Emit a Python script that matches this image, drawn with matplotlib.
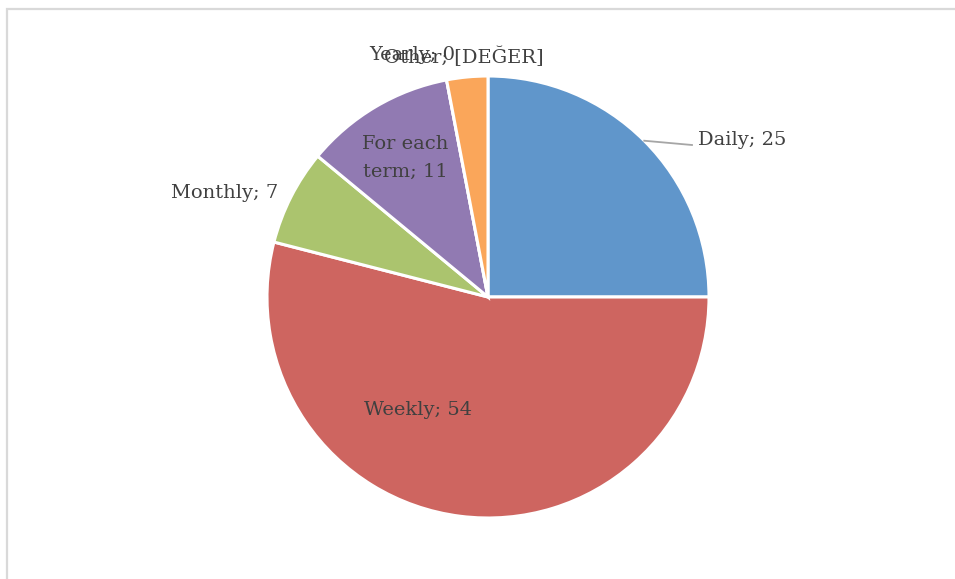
import numpy as np
import matplotlib.pyplot as plt
from matplotlib.patches import Rectangle

# data
categories = ["Daily", "Weekly", "Monthly", "For each\nterm", "Yearly", "Other"]
values = [25, 54, 7, 11, 0, 3]
value_text = ["25", "54", "7", "11", "0", "[DEĞER]"]
colors = ["#6096CB", "#CE6560", "#ABC46E", "#917AB2", "#FAA65A", "#FAA65A"]

W, H = 955, 579
fig = plt.figure(figsize=(W / 100, H / 100), dpi=100)
ax = fig.add_axes([0, 0, 1, 1])

cx, cy, R = 488, H - 297, 221
wedges, _ = ax.pie(values, colors=colors, startangle=90, counterclock=False,
                   center=(cx, cy), radius=R, frame=True,
                   wedgeprops=dict(edgecolor="white", linewidth=2.2))
ax.set_xlim(0, W)
ax.set_ylim(0, H)
ax.set_aspect("equal")
ax.axis("off")

# chart border (only top/left visible in the crop)
ax.add_patch(Rectangle((7.2, -20), W + 20, H - 8.5 + 20, fill=False,
                       edgecolor="#D9D9D9", linewidth=1.6))

txt = dict(family="DejaVu Serif", fontsize=14, color="#404040")

# label positions (pixel coords, y from top)
label_pos = {
    "Daily": (698, 140, "left"),
    "Weekly": (418, 410, "center"),
    "Monthly": (225, 193, "center"),
    "For each\nterm": (405, 158, "center"),
    "Yearly": (412, 55, "center"),
    "Other": (464, 57, "center"),
}
for cat, val in zip(categories, value_text):
    x, y, ha = label_pos[cat]
    ax.text(x, H - y, f"{cat}; {val}", ha=ha, va="center",
            linespacing=1.65, **txt)

# leader line for Daily
w = wedges[0]
mid = np.deg2rad((w.theta1 + w.theta2) / 2)
x0, y0 = cx + R * np.cos(mid), cy + R * np.sin(mid)
ax.plot([x0, 692], [y0, H - 145], color="#A6A6A6", linewidth=1.3)

fig.savefig("out.png", dpi=100)
